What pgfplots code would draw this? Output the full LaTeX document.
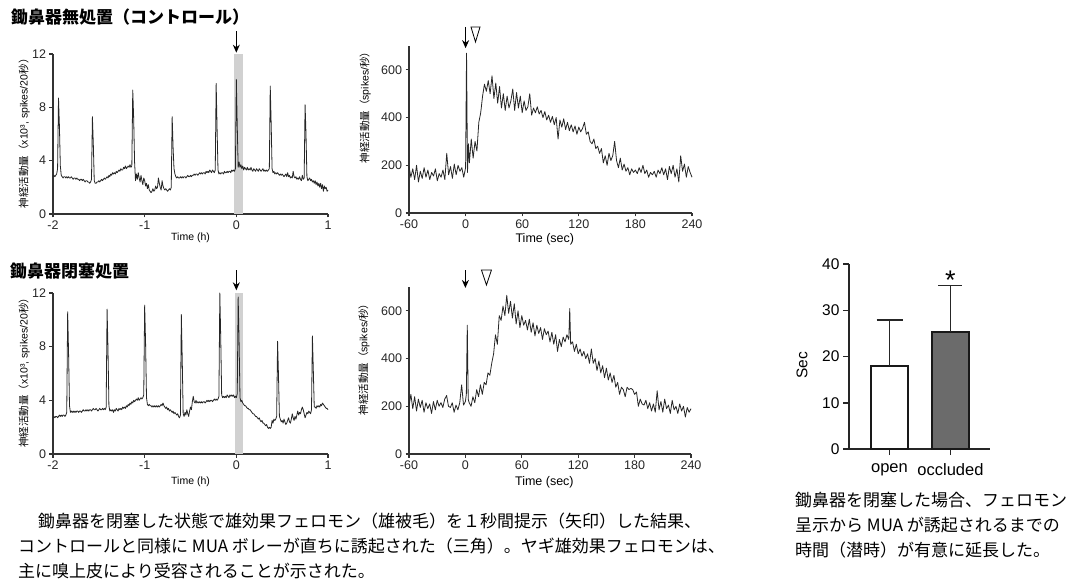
\documentclass[border=0pt]{standalone}
\usepackage{fontspec}
\setmainfont{Liberation Sans}
\newfontfamily\cjk{Noto Sans CJK JP}
\usepackage{pgfplots}
\pgfplotsset{compat=1.18}
\usetikzlibrary{arrows.meta}

\pgfplotsset{
  trace/.style={
    scale only axis,
    axis x line*=bottom, axis y line*=left,
    tick align=outside, major tick length=3.5pt,
    axis line style={line width=1.2pt, black!80},
    major tick style={line width=1.1pt, black!80},
    ticklabel style={font=\fontsize{12.5}{12.5}\selectfont, text=black!85},
    /pgf/number format/assume math mode=true,
    clip=false,
  },
  hours/.style={
    trace, xmin=-2, xmax=1, ymin=0, ymax=12,
    xtick={-2,-1,0,1}, ytick={0,4,8,12},
    xlabel={Time (h)},
    xlabel style={font=\fontsize{10.5}{10.5}\selectfont, anchor=center},
    ylabel={{\cjk 神経活動量（}x10³, spikes/20{\cjk 秒）}},
    ylabel style={font=\fontsize{10.5}{10.5}\selectfont, anchor=center},
  },
  secs/.style={
    trace, xmin=-60, xmax=240, ymin=0, ymax=700,
    xtick={-60,0,60,120,180,240}, ytick={0,200,400,600},
    xlabel={Time (sec)},
    xlabel style={font=\fontsize{12.5}{12.5}\selectfont, anchor=center},
    ylabel={{\cjk 神経活動量（}spikes/{\cjk 秒）}},
    ylabel style={font=\fontsize{10.5}{10.5}\selectfont, anchor=center},
  },
  trace line/.style={black!85, line width=0.8pt, line join=round},
}
\tikzset{stim/.style={-{Stealth[length=8pt,width=7pt]}, line width=1.1pt, black}}

\begin{document}
\begin{tikzpicture}
\path[use as bounding box] (0,0) rectangle (1077pt,582pt);

% ---------- titles ----------
\node[anchor=west, inner sep=0pt, font=\cjk\bfseries\fontsize{17}{17}\selectfont] at (11pt,565pt) {鋤鼻器無処置（コントロール）};
\node[anchor=west, inner sep=0pt, font=\cjk\bfseries\fontsize{17}{17}\selectfont] at (10pt,311pt) {鋤鼻器閉塞処置};

% ---------- top left: control, hours ----------
\begin{axis}[hours, at={(53pt,368pt)}, anchor=south west, width=275pt, height=160pt,
  xlabel style={at={(axis description cs:0.5,-0.15)}},
  ylabel style={at={(axis description cs:-0.105,0.52)}}]
\fill[black!18] (axis cs:-0.02,0) rectangle (axis cs:0.075,12);
\addplot[trace line] coordinates {
(-2.00,2.8) (-1.99,2.9) (-1.98,2.8) (-1.97,2.9) (-1.96,3.0) (-1.95,3.4) (-1.94,8.7) (-1.93,6.6) (-1.92,3.6) (-1.91,2.9)
(-1.90,2.8) (-1.89,2.7) (-1.88,2.8) (-1.87,2.8) (-1.86,2.7) (-1.85,2.8) (-1.84,2.7) (-1.83,2.8) (-1.82,2.7) (-1.81,2.7)
(-1.80,2.8) (-1.79,2.7) (-1.78,2.6) (-1.77,2.7) (-1.76,2.7) (-1.75,2.6) (-1.74,2.7) (-1.73,2.6) (-1.72,2.6) (-1.71,2.5)
(-1.70,2.6) (-1.69,2.6) (-1.68,2.5) (-1.67,2.6) (-1.66,2.5) (-1.65,2.4) (-1.64,2.5) (-1.63,2.5) (-1.62,2.4) (-1.61,2.4)
(-1.60,2.3) (-1.59,2.4) (-1.58,2.6) (-1.57,7.3) (-1.56,5.2) (-1.55,2.5) (-1.54,2.3) (-1.53,2.3) (-1.52,2.4) (-1.51,2.4)
(-1.50,2.5) (-1.49,2.4) (-1.48,2.5) (-1.47,2.6) (-1.46,2.5) (-1.45,2.6) (-1.44,2.7) (-1.43,2.6) (-1.42,2.7) (-1.41,2.8)
(-1.40,2.7) (-1.39,2.9) (-1.38,2.8) (-1.37,3.0) (-1.36,2.9) (-1.35,3.1) (-1.34,3.0) (-1.33,3.1) (-1.32,3.0) (-1.31,3.2)
(-1.30,3.1) (-1.29,3.2) (-1.28,3.3) (-1.27,3.2) (-1.26,3.4) (-1.25,3.3) (-1.24,3.3) (-1.23,3.5) (-1.22,3.4) (-1.21,3.6)
(-1.20,3.4) (-1.19,3.5) (-1.18,3.6) (-1.17,3.5) (-1.16,3.7) (-1.15,3.5) (-1.14,3.6) (-1.13,9.3) (-1.12,7.2) (-1.11,3.9)
(-1.10,2.5) (-1.09,3.0) (-1.08,2.6) (-1.07,3.1) (-1.06,2.7) (-1.05,2.4) (-1.04,2.9) (-1.03,2.5) (-1.02,2.2) (-1.01,2.7)
(-1.00,2.5) (-0.99,2.1) (-0.98,2.3) (-0.97,1.9) (-0.96,2.2) (-0.95,1.8) (-0.94,1.7) (-0.93,1.6) (-0.92,1.7) (-0.91,1.9)
(-0.90,1.7) (-0.89,1.8) (-0.88,2.1) (-0.87,1.9) (-0.86,2.0) (-0.85,2.7) (-0.84,2.3) (-0.83,2.0) (-0.82,1.8) (-0.81,2.5)
(-0.80,2.1) (-0.79,1.9) (-0.78,1.8) (-0.77,1.9) (-0.76,1.8) (-0.75,1.7) (-0.74,1.8) (-0.73,1.9) (-0.72,1.8) (-0.71,2.0)
(-0.70,7.3) (-0.69,5.0) (-0.68,3.4) (-0.67,3.0) (-0.66,2.8) (-0.65,2.7) (-0.64,2.8) (-0.63,2.7) (-0.62,2.7) (-0.61,2.8)
(-0.60,2.7) (-0.59,2.8) (-0.58,2.7) (-0.57,2.8) (-0.56,2.8) (-0.55,2.7) (-0.54,2.8) (-0.53,2.9) (-0.52,2.8) (-0.51,2.8)
(-0.50,2.9) (-0.49,2.8) (-0.48,2.9) (-0.47,2.9) (-0.46,3.0) (-0.45,2.9) (-0.44,3.0) (-0.43,3.0) (-0.42,2.9) (-0.41,3.0)
(-0.40,3.1) (-0.39,3.0) (-0.38,3.1) (-0.37,3.0) (-0.36,3.1) (-0.35,3.1) (-0.34,3.0) (-0.33,3.2) (-0.32,3.1) (-0.31,3.2)
(-0.30,3.1) (-0.29,3.3) (-0.28,3.2) (-0.27,3.1) (-0.26,3.3) (-0.25,3.2) (-0.24,3.1) (-0.23,3.3) (-0.22,9.8) (-0.21,6.4)
(-0.20,3.3) (-0.19,3.0) (-0.18,3.1) (-0.17,3.0) (-0.16,3.1) (-0.15,3.1) (-0.14,3.0) (-0.13,3.2) (-0.12,3.1) (-0.11,3.1)
(-0.10,3.2) (-0.09,3.1) (-0.08,3.2) (-0.07,3.2) (-0.06,3.1) (-0.05,3.3) (-0.04,3.2) (-0.03,3.3) (-0.02,3.2) (-0.01,3.4)
(0.00,10.1) (0.01,6.6) (0.02,3.5) (0.03,3.9) (0.04,3.5) (0.05,3.7) (0.06,3.4) (0.07,3.6) (0.08,3.3) (0.09,3.5)
(0.10,3.4) (0.11,3.3) (0.12,3.5) (0.13,3.3) (0.14,3.4) (0.15,3.3) (0.16,3.5) (0.17,3.3) (0.18,3.2) (0.19,3.4)
(0.20,3.3) (0.21,3.2) (0.22,3.4) (0.23,3.3) (0.24,3.2) (0.25,3.4) (0.26,3.3) (0.27,3.2) (0.28,3.3) (0.29,3.4)
(0.30,3.2) (0.31,3.3) (0.32,3.2) (0.33,3.3) (0.34,3.2) (0.35,3.3) (0.36,3.4) (0.37,9.6) (0.38,6.8) (0.39,3.4)
(0.40,3.1) (0.41,3.2) (0.42,3.0) (0.43,3.1) (0.44,3.0) (0.45,3.1) (0.46,3.0) (0.47,2.9) (0.48,3.0) (0.49,2.9)
(0.50,3.0) (0.51,2.9) (0.52,2.8) (0.53,2.9) (0.54,3.0) (0.55,2.8) (0.56,3.1) (0.57,2.8) (0.58,2.9) (0.59,2.7)
(0.60,2.8) (0.61,2.7) (0.62,3.2) (0.63,2.8) (0.64,2.7) (0.65,2.8) (0.66,2.6) (0.67,2.7) (0.68,2.6) (0.69,2.8)
(0.70,2.6) (0.71,2.5) (0.72,2.9) (0.73,2.6) (0.74,2.7) (0.75,8.2) (0.76,6.0) (0.77,2.8) (0.78,2.5) (0.79,2.6)
(0.80,2.7) (0.81,2.5) (0.82,2.6) (0.83,2.4) (0.84,2.5) (0.85,2.3) (0.86,2.5) (0.87,2.2) (0.88,2.4) (0.89,2.1)
(0.90,2.3) (0.91,2.0) (0.92,2.3) (0.93,1.9) (0.94,2.2) (0.95,1.7) (0.96,2.1) (0.97,1.9) (0.98,2.0) (0.99,1.7)
(1.00,1.8)
};
\draw[stim] (axis cs:0,13.7) -- (axis cs:0,12.1);
\end{axis}

% ---------- top right: control, seconds ----------
\begin{axis}[secs, at={(409pt,369pt)}, anchor=south west, width=283pt, height=167pt,
  xlabel style={at={(axis description cs:0.48,-0.156)}},
  ylabel style={at={(axis description cs:-0.155,0.647)}}]
\addplot[trace line] coordinates {
(-60,195) (-58,150) (-56,185) (-54,140) (-52,200) (-50,130) (-48,175) (-46,145) (-44,190) (-42,150)
(-40,180) (-38,140) (-36,170) (-34,155) (-32,185) (-30,135) (-28,165) (-26,150) (-24,180) (-22,140)
(-20,250) (-18,160) (-16,195) (-14,145) (-12,205) (-10,160) (-8,200) (-6,175) (-4,190) (-2,150)
(0,190) (1,670) (2,170) (3,290) (4,210) (6,310) (8,230) (10,300) (12,260) (14,380)
(16,420) (18,490) (20,540) (22,510) (24,555) (26,500) (28,575) (30,480) (32,545) (34,460)
(36,530) (38,440) (40,500) (42,430) (44,490) (46,440) (48,470) (50,520) (52,430) (54,505)
(56,440) (58,490) (60,420) (62,470) (64,430) (66,445) (68,500) (70,410) (72,440) (74,420)
(76,445) (78,415) (80,430) (82,400) (84,425) (86,390) (88,410) (90,380) (92,405) (94,370)
(96,400) (98,310) (100,390) (102,360) (104,395) (106,350) (108,380) (110,345) (112,370) (114,340)
(116,365) (118,330) (120,360) (122,340) (124,355) (126,380) (128,330) (130,340) (132,300) (134,290)
(136,310) (138,270) (140,280) (142,250) (144,270) (146,210) (148,240) (150,200) (152,250) (154,220)
(156,240) (158,300) (160,220) (162,190) (164,230) (166,180) (168,205) (170,175) (172,190) (174,160)
(176,185) (178,170) (180,180) (182,165) (184,190) (186,170) (188,200) (190,165) (192,180) (194,150)
(196,170) (198,160) (200,175) (202,150) (204,180) (206,165) (208,190) (210,160) (212,185) (214,140)
(216,195) (218,165) (220,200) (222,150) (224,185) (226,130) (228,240) (230,175) (232,205) (234,150)
(236,195) (238,170) (240,150)
};
\draw[stim] (axis cs:0,780) -- (axis cs:0,691);
\draw[line width=0.8pt, black] (axis cs:5.7,780) -- (axis cs:15.3,780) -- (axis cs:10.5,717) -- cycle;
\end{axis}

% ---------- bottom left: occluded, hours ----------
\begin{axis}[hours, at={(53pt,128pt)}, anchor=south west, width=275pt, height=161pt,
  xlabel style={at={(axis description cs:0.5,-0.17)}},
  ylabel style={at={(axis description cs:-0.105,0.52)}}]
\fill[black!18] (axis cs:-0.015,0) rectangle (axis cs:0.07,12);
\addplot[trace line] coordinates {
(-2.00,2.7) (-1.99,2.8) (-1.98,2.7) (-1.97,2.8) (-1.96,2.8) (-1.95,2.7) (-1.94,2.8) (-1.93,2.9) (-1.92,2.8) (-1.91,2.9)
(-1.90,2.8) (-1.89,2.9) (-1.88,2.9) (-1.87,2.8) (-1.86,2.9) (-1.85,3.1) (-1.84,10.6) (-1.83,7.5) (-1.82,3.6) (-1.81,3.1)
(-1.80,3.2) (-1.79,3.1) (-1.78,3.2) (-1.77,3.1) (-1.76,3.2) (-1.75,3.1) (-1.74,3.2) (-1.73,3.2) (-1.72,3.1) (-1.71,3.2)
(-1.70,3.2) (-1.69,3.1) (-1.68,3.2) (-1.67,3.3) (-1.66,3.2) (-1.65,3.2) (-1.64,3.3) (-1.63,3.2) (-1.62,3.3) (-1.61,3.2)
(-1.60,3.3) (-1.59,3.3) (-1.58,3.2) (-1.57,3.3) (-1.56,3.4) (-1.55,3.3) (-1.54,3.3) (-1.53,3.4) (-1.52,3.3) (-1.51,3.2)
(-1.50,3.3) (-1.49,3.4) (-1.48,3.3) (-1.47,3.3) (-1.46,3.4) (-1.45,3.3) (-1.44,3.4) (-1.43,3.3) (-1.42,3.5) (-1.41,10.8)
(-1.40,7.8) (-1.39,3.6) (-1.38,3.2) (-1.37,3.3) (-1.36,3.2) (-1.35,3.3) (-1.34,3.1) (-1.33,3.3) (-1.32,3.2) (-1.31,3.4)
(-1.30,3.3) (-1.29,3.2) (-1.28,3.4) (-1.27,3.3) (-1.26,3.4) (-1.25,3.3) (-1.24,3.5) (-1.23,3.4) (-1.22,3.5) (-1.21,3.4)
(-1.20,3.6) (-1.19,3.5) (-1.18,3.7) (-1.17,3.6) (-1.16,3.8) (-1.15,3.7) (-1.14,3.9) (-1.13,3.8) (-1.12,4.0) (-1.11,3.9)
(-1.10,4.0) (-1.09,4.1) (-1.08,4.0) (-1.07,4.2) (-1.06,4.0) (-1.05,4.1) (-1.04,4.2) (-1.03,4.1) (-1.02,4.2) (-1.01,4.4)
(-1.00,11.1) (-0.99,8.3) (-0.98,4.2) (-0.97,3.7) (-0.96,3.6) (-0.95,3.7) (-0.94,3.6) (-0.93,3.6) (-0.92,3.5) (-0.91,3.6)
(-0.90,3.5) (-0.89,3.6) (-0.88,3.5) (-0.87,3.6) (-0.86,3.5) (-0.85,3.6) (-0.84,3.5) (-0.83,3.6) (-0.82,3.7) (-0.81,3.6)
(-0.80,3.8) (-0.79,3.6) (-0.78,3.5) (-0.77,3.4) (-0.76,3.5) (-0.75,3.3) (-0.74,3.4) (-0.73,3.2) (-0.72,3.3) (-0.71,3.2)
(-0.70,3.1) (-0.69,3.2) (-0.68,3.0) (-0.67,3.1) (-0.66,3.0) (-0.65,2.9) (-0.64,3.0) (-0.63,2.8) (-0.62,2.7) (-0.61,2.9)
(-0.60,10.4) (-0.59,7.0) (-0.58,3.0) (-0.57,2.8) (-0.56,3.1) (-0.55,2.9) (-0.54,3.3) (-0.53,3.0) (-0.52,2.8) (-0.51,3.2)
(-0.50,3.5) (-0.49,3.3) (-0.48,3.9) (-0.47,4.3) (-0.46,3.9) (-0.45,3.8) (-0.44,4.0) (-0.43,3.8) (-0.42,3.9) (-0.41,3.8)
(-0.40,3.9) (-0.39,3.8) (-0.38,3.9) (-0.37,3.8) (-0.36,3.9) (-0.35,3.9) (-0.34,3.8) (-0.33,3.9) (-0.32,4.0) (-0.31,3.9)
(-0.30,4.0) (-0.29,3.9) (-0.28,4.0) (-0.27,4.0) (-0.26,3.9) (-0.25,4.0) (-0.24,4.1) (-0.23,4.0) (-0.22,4.1) (-0.21,4.0)
(-0.20,4.1) (-0.19,4.3) (-0.18,12.0) (-0.17,8.6) (-0.16,4.4) (-0.15,4.2) (-0.14,4.3) (-0.13,4.2) (-0.12,4.3) (-0.11,4.2)
(-0.10,4.4) (-0.09,4.3) (-0.08,4.2) (-0.07,4.4) (-0.06,4.3) (-0.05,4.4) (-0.04,4.3) (-0.03,4.4) (-0.02,4.2) (-0.01,4.3)
(0.00,4.2) (0.01,4.5) (0.02,11.7) (0.03,8.4) (0.04,4.2) (0.05,3.9) (0.06,4.0) (0.07,3.8) (0.08,3.7) (0.09,3.6)
(0.10,3.6) (0.11,3.5) (0.12,3.4) (0.13,3.4) (0.14,3.3) (0.15,3.3) (0.16,3.2) (0.17,3.1) (0.18,3.0) (0.19,3.0)
(0.20,2.9) (0.21,2.8) (0.22,2.8) (0.23,2.7) (0.24,2.6) (0.25,2.7) (0.26,2.5) (0.27,2.4) (0.28,2.5) (0.29,2.3)
(0.30,2.3) (0.31,2.2) (0.32,2.1) (0.33,2.2) (0.34,2.0) (0.35,1.9) (0.36,2.0) (0.37,1.9) (0.38,2.0) (0.39,2.5)
(0.40,2.3) (0.41,2.6) (0.42,2.5) (0.43,2.6) (0.44,2.8) (0.45,8.4) (0.46,5.8) (0.47,2.8) (0.48,2.6) (0.49,2.4)
(0.50,2.5) (0.51,2.3) (0.52,2.6) (0.53,2.4) (0.54,2.2) (0.55,2.3) (0.56,2.5) (0.57,2.7) (0.58,2.4) (0.59,2.3)
(0.60,2.6) (0.61,3.0) (0.62,2.7) (0.63,2.5) (0.64,2.8) (0.65,2.6) (0.66,2.9) (0.67,3.2) (0.68,2.9) (0.69,3.1)
(0.70,3.0) (0.71,3.3) (0.72,3.5) (0.73,3.3) (0.74,3.0) (0.75,2.7) (0.76,2.9) (0.77,3.1) (0.78,3.0) (0.79,3.2)
(0.80,3.1) (0.81,3.0) (0.82,3.3) (0.83,8.8) (0.84,6.2) (0.85,3.5) (0.86,3.5) (0.87,3.4) (0.88,3.6) (0.89,3.5)
(0.90,3.6) (0.91,3.5) (0.92,3.7) (0.93,3.6) (0.94,3.8) (0.95,3.7) (0.96,3.6) (0.97,3.5) (0.98,3.4) (0.99,3.4)
(1.00,3.3)
};
\draw[stim] (axis cs:0,13.7) -- (axis cs:0,12.2);
\end{axis}

% ---------- bottom right: occluded, seconds ----------
\begin{axis}[secs, at={(409pt,128pt)}, anchor=south west, width=282pt, height=167pt,
  xlabel style={at={(axis description cs:0.48,-0.168)}},
  ylabel style={at={(axis description cs:-0.16,0.58)}}]
\addplot[trace line] coordinates {
(-60,200) (-58,250) (-56,190) (-54,240) (-52,180) (-50,230) (-48,195) (-46,225) (-44,175) (-42,215)
(-40,190) (-38,210) (-36,170) (-34,220) (-32,185) (-30,225) (-28,200) (-26,215) (-24,195) (-22,230)
(-20,245) (-18,200) (-16,195) (-14,215) (-12,175) (-10,205) (-8,185) (-6,215) (-4,290) (-2,205)
(0,220) (1,250) (2,540) (3,230) (4,215) (6,200) (8,240) (10,215) (12,270) (14,240)
(16,290) (18,250) (20,300) (22,290) (24,340) (26,330) (28,380) (30,420) (32,500) (34,460)
(36,580) (38,560) (40,620) (42,580) (44,665) (46,590) (48,640) (50,570) (52,630) (54,545)
(56,600) (58,530) (60,580) (62,540) (64,560) (66,520) (68,565) (70,510) (72,550) (74,495)
(76,540) (78,505) (80,530) (82,480) (84,525) (86,500) (88,515) (90,470) (92,510) (94,460)
(96,500) (98,430) (100,480) (102,450) (104,490) (106,470) (108,500) (110,480) (111,610) (112,460)
(114,470) (116,430) (118,460) (120,420) (122,440) (124,410) (126,430) (128,400) (130,420) (132,380)
(134,440) (136,380) (138,400) (140,350) (142,390) (144,340) (146,370) (148,320) (150,360) (152,310)
(154,340) (156,300) (158,330) (160,280) (162,300) (164,250) (166,280) (168,270) (170,240) (172,280)
(174,270) (176,275) (178,270) (180,250) (182,260) (184,200) (186,230) (188,210) (190,205) (192,225)
(194,190) (196,215) (198,180) (200,210) (202,175) (204,265) (206,185) (208,220) (210,175) (212,230)
(214,190) (216,205) (218,170) (220,225) (222,185) (224,200) (226,170) (228,210) (230,180) (232,200)
(234,155) (236,195) (238,175) (240,190)
};
\draw[stim] (axis cs:0,771) -- (axis cs:0,696);
\draw[line width=0.8pt, black] (axis cs:17.1,771) -- (axis cs:27.7,771) -- (axis cs:22.4,708) -- cycle;
\end{axis}

% ---------- bar chart: latency ----------
\begin{axis}[scale only axis, at={(849pt,133pt)}, anchor=south west, width=141pt, height=185pt,
  xmin=0.336, xmax=2.648, ymin=0, ymax=40,
  axis x line*=bottom, axis y line*=left,
  tick align=outside, major tick length=6pt,
  axis line style={line width=1.7pt, black!85},
  major tick style={line width=1.5pt, black!85},
  xtick={1,2}, xticklabels={open,occluded},
  ytick={0,10,20,30,40},
  xticklabel style={font=\fontsize{16.5}{16.5}\selectfont, yshift=-5pt},
  yticklabel style={font=\fontsize{15.5}{15.5}\selectfont},
  /pgf/number format/assume math mode=true,
  ylabel={Sec},
  ylabel style={font=\fontsize{15.5}{15.5}\selectfont, at={(axis description cs:-0.333,0.454)}, anchor=center},
  clip=false]
\addplot[ybar, bar shift=0pt, bar width=37pt, fill=white, draw=black!90, line width=1.6pt,
  error bars/.cd, y dir=plus, y explicit,
  error bar style={line width=1.3pt, black!85},
  error mark options={rotate=90, mark size=13pt, line width=1.3pt, black!85}]
  coordinates {(1,18.0) +- (0,9.9)};
\addplot[ybar, bar shift=0pt, bar width=37pt, fill=black!58, draw=black!90, line width=1.6pt,
  error bars/.cd, y dir=plus, y explicit,
  error bar style={line width=1.3pt, black!85},
  error mark options={rotate=90, mark size=12pt, line width=1.3pt, black!85}]
  coordinates {(2,25.3) +- (0,10.1)};
\node[font=\fontsize{27}{27}\selectfont, anchor=center] at (axis cs:2,36.6) {*};
\end{axis}

% ---------- captions ----------
\begin{scope}[every node/.style={anchor=west, inner sep=0pt, font=\cjk\fontsize{17}{17}\selectfont}]
\node at (38pt,61pt) {鋤鼻器を閉塞した状態で雄効果フェロモン（雄被毛）を１秒間提示（矢印）した結果、};
\node at (18pt,36pt) {コントロールと同様に MUA ボレーが直ちに誘起された（三角）。ヤギ雄効果フェロモンは、};
\node at (18pt,11pt) {主に嗅上皮により受容されることが示された。};
\node at (795pt,82pt) {鋤鼻器を閉塞した場合、フェロモン};
\node at (795pt,57pt) {呈示から MUA が誘起されるまでの};
\node at (795pt,32pt) {時間（潜時）が有意に延長した。};
\end{scope}
\end{tikzpicture}
\end{document}
